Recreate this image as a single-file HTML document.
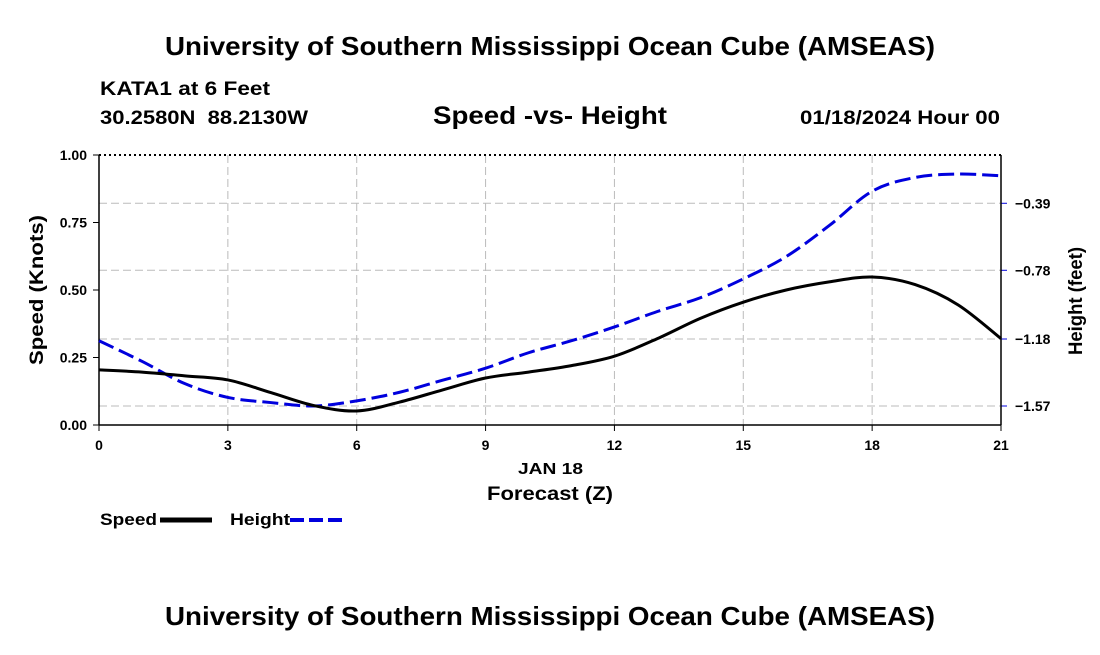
<!DOCTYPE html>
<html><head><meta charset="utf-8">
<style>
body{margin:0;background:#fff;width:1100px;height:650px;overflow:hidden;font-family:"Liberation Sans",Arial,sans-serif}
svg text{font-family:"Liberation Sans",Arial,sans-serif;font-weight:bold;fill:#000}
</style></head><body>
<svg id="chart" width="1100" height="650" xmlns="http://www.w3.org/2000/svg">
<text x="165" y="55" font-size="26" textLength="770" lengthAdjust="spacingAndGlyphs">University of Southern Mississippi Ocean Cube (AMSEAS)</text>
<text x="100" y="95" font-size="19" textLength="170" lengthAdjust="spacingAndGlyphs">KATA1 at 6 Feet</text>
<text x="100" y="124" font-size="19" textLength="208" lengthAdjust="spacingAndGlyphs" xml:space="preserve">30.2580N  88.2130W</text>
<text x="433" y="124" font-size="25" textLength="234" lengthAdjust="spacingAndGlyphs">Speed -vs- Height</text>
<text x="800" y="124" font-size="19" textLength="200" lengthAdjust="spacingAndGlyphs">01/18/2024 Hour 00</text>
<g id="grid"></g><g id="axes"></g><g id="series"></g>
<text x="518" y="474" font-size="16" textLength="65" lengthAdjust="spacingAndGlyphs">JAN 18</text>
<text x="487" y="500" font-size="19" textLength="126" lengthAdjust="spacingAndGlyphs">Forecast (Z)</text>
<text transform="translate(43,365) rotate(-90)" font-size="19" textLength="150" lengthAdjust="spacingAndGlyphs">Speed (Knots)</text>
<text transform="translate(1082,355) rotate(-90)" font-size="19" textLength="108" lengthAdjust="spacingAndGlyphs">Height (feet)</text>
<g>
<text x="100" y="525" font-size="17" textLength="57" lengthAdjust="spacingAndGlyphs">Speed</text>
<line x1="160" y1="520" x2="212" y2="520" stroke="#000" stroke-width="5"/>
<text x="230" y="525" font-size="17" textLength="60" lengthAdjust="spacingAndGlyphs">Height</text>
<line x1="290" y1="520" x2="342" y2="520" stroke="#0000dd" stroke-width="4" stroke-dasharray="14,5"/>
</g>
<text x="165" y="625" font-size="26" textLength="770" lengthAdjust="spacingAndGlyphs">University of Southern Mississippi Ocean Cube (AMSEAS)</text>
</svg>
<script>
const hours=[0,1,2,3,4,5,6,7,8,9,10,11,12,13,14,15,16,17,18,19,20,21];
const speed=[0.204,0.196,0.182,0.167,0.12,0.072,0.052,0.085,0.13,0.174,0.196,0.22,0.255,0.32,0.395,0.455,0.5,0.53,0.548,0.52,0.445,0.32];
const height=[-1.19,-1.31,-1.44,-1.52,-1.55,-1.57,-1.54,-1.49,-1.42,-1.35,-1.26,-1.19,-1.11,-1.02,-0.94,-0.83,-0.70,-0.52,-0.32,-0.24,-0.22,-0.23];
const xTicks=[0,3,6,9,12,15,18,21];
const speedTicks=[0,0.25,0.5,0.75,1.0];
const speedLabels=["0.00","0.25","0.50","0.75","1.00"];
const heightTicks=[-0.39,-0.78,-1.18,-1.57];
const heightLabels=["-0.39","-0.78","-1.18","-1.57"];
const L=99,R=1001,T=155,B=425;
const xs=h=>L+(h-0)/21*(R-L);
const ys=v=>B-v*(B-T);
const yh=v=>339+(-1.18-v)*(406-339)/0.39;
const NS="http://www.w3.org/2000/svg";
function mk(p,tag,at){const e=document.createElementNS(NS,tag);for(const k in at)e.setAttribute(k,at[k]);p.appendChild(e);return e;}
const grid=document.getElementById('grid'),axes=document.getElementById('axes'),ser=document.getElementById('series');
xTicks.forEach(t=>{
 if(t>0&&t<21){const g=mk(grid,'line',{x1:xs(t),x2:xs(t),y1:T,y2:B,stroke:'#bbb','stroke-dasharray':'8,4'});
 
 }
 const tk=mk(axes,'line',{x1:xs(t),x2:xs(t),y1:B,y2:B+6,stroke:'#000'});
 
 
 const lb=mk(axes,'text',{x:xs(t),y:B+25,'text-anchor':'middle','font-size':'14'});lb.textContent=t;
 
 
});
heightTicks.forEach((t,i)=>{
 const g=mk(grid,'line',{x1:L,x2:R,y1:yh(t),y2:yh(t),stroke:'#bbb','stroke-dasharray':'8,4'});
 
 
 const tk=mk(axes,'line',{x1:R,x2:R+6,y1:yh(t),y2:yh(t),stroke:'#0000dd'});
 
 
 const lb=mk(axes,'text',{x:R+14,y:yh(t)+5,'font-size':'14'});lb.textContent=heightLabels[i].replace('-','\u2212');
 
 
});
speedTicks.forEach((t,i)=>{
 const tk=mk(axes,'line',{x1:L-6,x2:L,y1:ys(t),y2:ys(t),stroke:'#000'});
 
 
 const lb=mk(axes,'text',{x:L-12,y:ys(t)+5,'text-anchor':'end','font-size':'14'});lb.textContent=speedLabels[i];
 
 
});
const topBorder=mk(axes,'line',{x1:L,x2:R,y1:T,y2:T,stroke:'#000','stroke-width':2,'stroke-dasharray':'2,3'});


const ax1=mk(axes,'line',{x1:L,x2:L,y1:T,y2:B,stroke:'#000','stroke-width':1.5});


const ax2=mk(axes,'line',{x1:R,x2:R,y1:T,y2:B,stroke:'#000','stroke-width':1.5});


const ax3=mk(axes,'line',{x1:L,x2:R,y1:B,y2:B,stroke:'#000','stroke-width':1.5});


function smooth(pts){let d=`M${pts[0][0]},${pts[0][1]}`;
 for(let i=0;i<pts.length-1;i++){const p0=pts[i-1]||pts[i],p1=pts[i],p2=pts[i+1],p3=pts[i+2]||p2;
 d+=` C${p1[0]+(p2[0]-p0[0])/6},${p1[1]+(p2[1]-p0[1])/6} ${p2[0]-(p3[0]-p1[0])/6},${p2[1]-(p3[1]-p1[1])/6} ${p2[0]},${p2[1]}`;}
 return d;}
const hp=mk(ser,'path',{d:smooth(hours.map((h,i)=>[xs(h),yh(height[i])])),fill:'none',stroke:'#0000dd','stroke-width':3,'stroke-dasharray':'16,6'});


const sp=mk(ser,'path',{d:smooth(hours.map((h,i)=>[xs(h),ys(speed[i])])),fill:'none',stroke:'#000','stroke-width':3});


</script>
</body></html>
